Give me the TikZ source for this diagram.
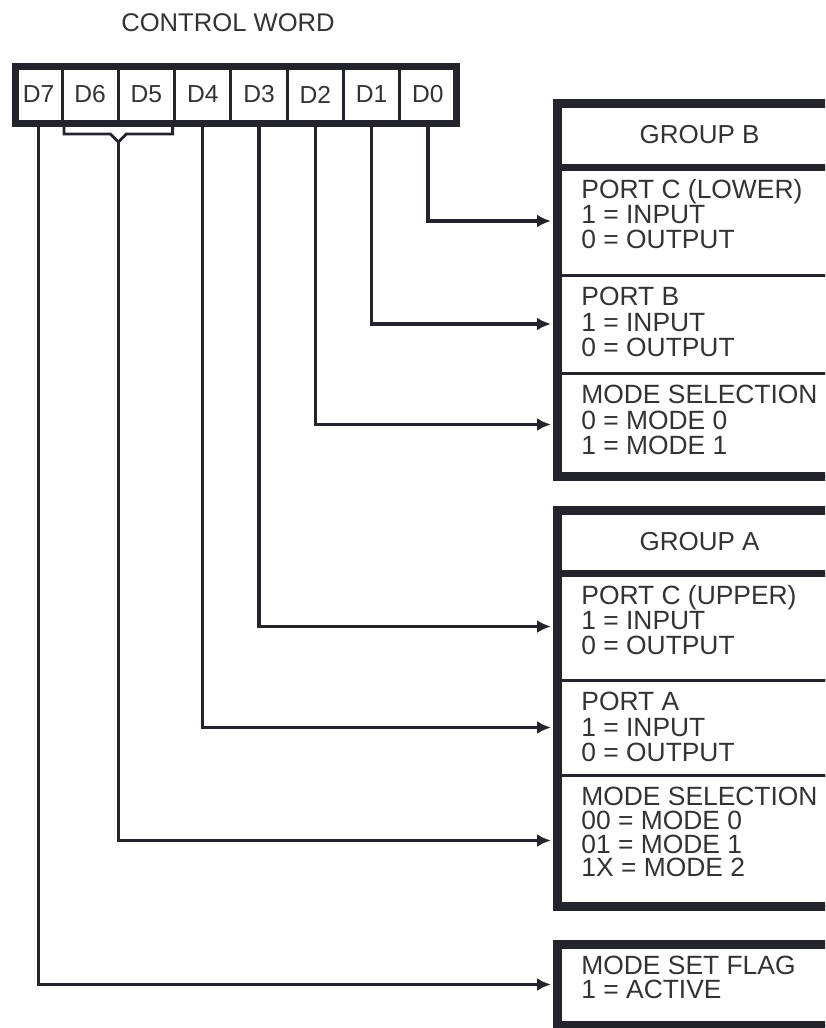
\documentclass[tikz,border=0pt]{standalone}
\usepackage{fontspec}
\setsansfont{Liberation Sans}
\usetikzlibrary{arrows.meta, positioning, calc}
\definecolor{ink}{HTML}{24242C}
\definecolor{txt}{HTML}{333333}
\setlength{\lineskiplimit}{-20pt}

\begin{document}
\begin{tikzpicture}[x=0.5pt, y=-0.5pt,
        font=\sffamily, text=txt,
        bitcell/.style    = {rectangle, draw=ink, line width=1.5pt, minimum width=28.15pt, minimum height=28.5pt, inner sep=0pt, outer sep=0pt, font=\sffamily\fontsize{12.3}{14}\selectfont},
        grphead/.style    = {rectangle, anchor=north west, minimum width=142.5pt, inner sep=0pt, outer sep=0pt, font=\sffamily\fontsize{13}{14}\selectfont},
        fieldbox/.style   = {rectangle, draw=ink, line width=1.5pt, anchor=north west, minimum width=142.5pt, inner sep=0pt, outer sep=0pt},
        field/.style      = {fieldbox, label={[fieldtext, font=\sffamily\fontsize{13.2}{12.6}\selectfont]north west:{#1}}},
        fieldtight/.style = {fieldbox, label={[fieldtext, font=\sffamily\fontsize{13.2}{11.8}\selectfont]north west:{#1}}},
        fieldtext/.style  = {anchor=north west, inner sep=0pt, xshift=12pt, yshift=-6pt, align=left, text=txt},
        frame/.style      = {draw=ink, line width=4.5pt},
        wire/.style       = {draw=ink, line width=1.7pt},
        bitarrow/.style   = {wire, -{Latex[length=7pt, width=6.5pt]}, shorten >=3pt}
    ]

    \useasboundingbox (0,0) rectangle (825,1028);
    \clip (0,0) rectangle (825,1028);

    % --- CONTROL WORD REGISTER ---
    \node[font=\sffamily\fontsize{12.8}{14}\selectfont, anchor=base] (title) at (228,32) {CONTROL WORD};

    \node[bitcell, minimum width=23.5pt] (d7) at (38.5,94.5) {D7};
    \node[bitcell, right=0pt of d7] (d6) {D6};
    \node[bitcell, right=0pt of d6] (d5) {D5};
    \node[bitcell, right=0pt of d5] (d4) {D4};
    \node[bitcell, right=0pt of d4] (d3) {D3};
    \node[bitcell, right=0pt of d3] (d2) {D2};
    \node[bitcell, right=0pt of d2] (d1) {D1};
    \node[bitcell, right=0pt of d1] (d0) {D0};

    \draw[frame, line width=3.5pt] (d7.north west) rectangle (d0.south east);

    % D6/D5 bracket
    \coordinate (d65) at ($(d6.south east)+(0,19)$);
    \draw[wire, line width=1.4pt] ($(d6.south west)+(2,0)$) -- ++(0,11) -- ($(d6.south east)+(-8,11)$) -- (d65)
        -- ($(d6.south east)+(8,11)$) -- ($(d5.south east)+(-2,11)$) -- ++(0,-11);

    % --- GROUP B ---
    \node[grphead, minimum height=32pt] (grpB) at (557,103) {GROUP B};
    \node[field={PORT C (LOWER)\\1 = INPUT\\0 = OUTPUT}, minimum height=54pt] (pcl) at (grpB.south west) {};
    \node[field={PORT B\\1 = INPUT\\0 = OUTPUT}, minimum height=49pt] (pb) at (pcl.south west) {};
    \node[field={MODE SELECTION\\0 = MODE 0\\1 = MODE 1}, minimum height=51.5pt] (modeB) at (pb.south west) {};

    \draw[frame] (grpB.north west) rectangle (modeB.south east);
    \draw[frame, line width=3.5pt] (grpB.south west) -- (grpB.south east);

    % --- GROUP A ---
    \node[grphead, minimum height=31.5pt] (grpA) at (557,510) {GROUP A};
    \node[field={PORT C (UPPER)\\1 = INPUT\\0 = OUTPUT}, minimum height=53.5pt] (pcu) at (grpA.south west) {};
    \node[field={PORT A\\1 = INPUT\\0 = OUTPUT}, minimum height=47.5pt] (pa) at (pcu.south west) {};
    \node[fieldtight={MODE SELECTION\\00 = MODE 0\\01 = MODE 1\\1X = MODE 2}, minimum height=65.5pt] (modeA) at (pa.south west) {};

    \draw[frame] (grpA.north west) rectangle (modeA.south east);
    \draw[frame, line width=3.5pt] (grpA.south west) -- (grpA.south east);

    % --- MODE SET FLAG ---
    \node[fieldtight={MODE SET FLAG\\1 = ACTIVE}, minimum height=40.5pt] (flag) at (557,944) {};
    \draw[frame] (flag.north west) rectangle (flag.south east);

    % --- BIT CONNECTIONS ---
    \draw[bitarrow] (d0.south) |- (pcl.west);
    \draw[bitarrow] (d1.south) |- (pb.west);
    \draw[bitarrow] (d2.south) |- (modeB.west);
    \draw[bitarrow] (d3.south) |- (pcu.west);
    \draw[bitarrow] (d4.south) |- (pa.west);
    \draw[bitarrow] (d65) |- (modeA.west);
    \draw[bitarrow] (d7.south) |- (flag.west);

\end{tikzpicture}
\end{document}
